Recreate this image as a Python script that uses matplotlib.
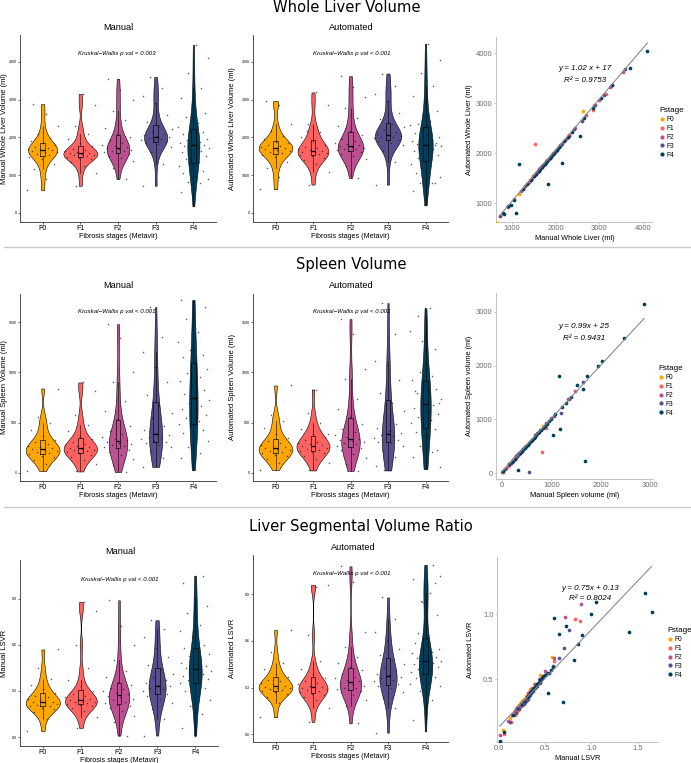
import matplotlib
matplotlib.use("Agg")
import matplotlib.pyplot as plt
from matplotlib.lines import Line2D
import numpy as np

W, H = 691, 763
STAGES = ["F0", "F1", "F2", "F3", "F4"]
STAGE_COLORS = ["#FFA600", "#FF6361", "#BC5090", "#58508D", "#003F5C"]

# whole liver volume (ml), manual vs automated, paired per patient
LIVER_MANUAL = {
    "F0": [600, 900, 1150, 1300, 1420, 1480, 1530, 1570, 1600, 1620, 1640, 1660, 1680, 1700, 1720, 1750, 1790, 1840, 1900, 1980, 2100, 2300, 2620, 2880],
    "F1": [720, 1050, 1250, 1360, 1420, 1460, 1490, 1510, 1530, 1545, 1560, 1575, 1590, 1610, 1630, 1660, 1700, 1760, 1850, 1950, 2100, 2300, 2850, 3150],
    "F2": [900, 1200, 1380, 1460, 1520, 1560, 1590, 1610, 1630, 1650, 1670, 1690, 1710, 1740, 1770, 1810, 1860, 1920, 2000, 2100, 2250, 2450, 2700, 3000, 3250, 3550],
    "F3": [720, 1300, 1600, 1750, 1820, 1860, 1890, 1920, 1940, 1960, 1980, 2000, 2030, 2060, 2100, 2150, 2220, 2300, 2420, 2600, 2900, 3100, 3300, 3600],
    "F4": [180, 550, 800, 820, 900, 980, 1050, 1100, 1150, 1250, 1350, 1430, 1500, 1560, 1610, 1650, 1690, 1720, 1750, 1780,
           1800, 1830, 1860, 1890, 1930, 1970, 2020, 2080, 2150, 2200, 2280, 2380, 2550, 2650, 2850, 3050, 3300, 3700, 4100, 4450],
}
LIVER_AUTO = {
    "F0": [630, 940, 1190, 1340, 1470, 1530, 1580, 1620, 1650, 1670, 1690, 1710, 1730, 1750, 1770, 1800, 1840, 1890, 1950, 2040, 2160, 2360, 2850, 2960],
    "F1": [750, 1090, 1290, 1400, 1460, 1500, 1540, 1560, 2180, 1590, 1610, 1620, 1640, 1660, 1680, 1710, 1750, 1810, 1900, 2000, 2150, 2360, 2860, 3190],
    "F2": [930, 1240, 1420, 1500, 1560, 1600, 1630, 1660, 1680, 1700, 1720, 1740, 1760, 1790, 1820, 1860, 1910, 1970, 2060, 2160, 2310, 2510, 2770, 3060, 3330, 3620],
    "F3": [750, 1340, 1640, 1790, 1860, 1900, 1930, 1960, 1980, 2000, 2020, 2040, 2070, 2100, 2140, 2190, 2270, 2350, 2480, 2650, 2960, 3160, 3370, 3690],
    "F4": [200, 570, 800, 790, 950, 960, 1060, 800, 1780, 1290, 1390, 1460, 1540, 1590, 1650, 1690, 1730, 1760, 1790, 1820,
           1850, 1380, 1910, 1940, 1980, 2010, 2070, 2120, 1810, 2250, 2330, 2430, 2350, 2700, 2900, 3100, 3360, 3700, 4050, 4480],
}

# spleen volume (ml)
SPLEEN_MANUAL = {
    "F0": [20, 90, 130, 155, 170, 185, 195, 205, 215, 225, 235, 245, 255, 270, 285, 305, 330, 370, 430, 500, 560, 840],
    "F1": [15, 90, 130, 160, 180, 195, 205, 215, 225, 232, 240, 248, 256, 265, 275, 290, 310, 335, 370, 420, 480, 580, 820, 900],
    "F2": [10, 80, 140, 180, 210, 230, 245, 258, 270, 280, 290, 300, 312, 325, 340, 360, 385, 420, 470, 540, 620, 720, 900, 1000, 1340, 1480],
    "F3": [60, 150, 220, 260, 280, 295, 310, 322, 335, 348, 362, 380, 400, 430, 470, 550, 600, 680, 780, 900, 1050, 1200, 1350, 1650],
    "F4": [30, 150, 200, 260, 320, 360, 400, 430, 460, 490, 520, 550, 580, 610, 640, 670, 700, 730, 760, 790,
           830, 870, 910, 950, 990, 1030, 1080, 1150, 1170, 1220, 1300, 1400, 1530, 1650, 1690, 1720, 1950, 2020, 2480, 2880],
}
SPLEEN_AUTO = {
    "F0": [30, 100, 140, 165, 180, 195, 205, 215, 225, 235, 245, 255, 265, 280, 295, 315, 345, 385, 445, 520, 580, 870],
    "F1": [25, 100, 140, 170, 195, 210, 220, 232, 242, 250, 258, 266, 275, 285, 295, 310, 330, 355, 390, 440, 500, 600, 390, 830],
    "F2": [20, 90, 150, 190, 225, 245, 260, 272, 285, 295, 305, 315, 328, 342, 358, 378, 405, 440, 490, 560, 640, 740, 930, 1030, 1380, 1530],
    "F3": [70, 160, 230, 270, 295, 310, 325, 338, 352, 366, 380, 400, 420, 450, 490, 25, 620, 700, 800, 920, 1070, 1110, 1380, 1690],
    "F4": [40, 160, 210, 270, 60, 370, 410, 440, 470, 500, 530, 560, 590, 620, 650, 680, 710, 740, 770, 800,
           840, 880, 920, 960, 1000, 700, 1090, 1810, 820, 1230, 1310, 1410, 1640, 1560, 230, 1810, 1990, 2080, 2520, 3150],
}

# liver segmental volume ratio
LSVR_MANUAL = {
    "F0": [0.04, 0.12, 0.16, 0.18, 0.19, 0.20, 0.205, 0.21, 0.215, 0.22, 0.225, 0.23, 0.24, 0.25, 0.26, 0.27, 0.29, 0.31, 0.34, 0.38, 0.45, 0.57],
    "F1": [0.06, 0.13, 0.17, 0.19, 0.20, 0.21, 0.215, 0.22, 0.225, 0.23, 0.235, 0.24, 0.245, 0.25, 0.26, 0.27, 0.28, 0.30, 0.33, 0.37, 0.45, 0.60, 0.82, 0.88],
    "F2": [0.01, 0.10, 0.14, 0.17, 0.19, 0.20, 0.21, 0.22, 0.23, 0.24, 0.25, 0.26, 0.27, 0.28, 0.29, 0.30, 0.31, 0.32, 0.34, 0.36, 0.39, 0.43, 0.50, 0.60, 0.72, 0.89],
    "F3": [0.01, 0.12, 0.18, 0.22, 0.25, 0.27, 0.28, 0.29, 0.30, 0.31, 0.32, 0.33, 0.34, 0.35, 0.37, 0.39, 0.41, 0.44, 0.47, 0.52, 0.58, 0.65, 0.70, 0.76],
    "F4": [0.01, 0.06, 0.15, 0.20, 0.24, 0.27, 0.30, 0.32, 0.34, 0.35, 0.36, 0.37, 0.38, 0.39, 0.40, 0.41, 0.42, 0.43, 0.44, 0.45,
           0.46, 0.47, 0.48, 0.50, 0.53, 0.54, 0.56, 0.58, 0.60, 0.65, 0.69, 0.73, 0.81, 0.85, 0.90, 1.00, 1.05, 1.41, 1.58, 1.65],
}
LSVR_AUTO = {
    "F0": [0.11, 0.20, 0.24, 0.26, 0.27, 0.28, 0.285, 0.29, 0.295, 0.30, 0.305, 0.31, 0.32, 0.33, 0.34, 0.35, 0.37, 0.39, 0.42, 0.46, 0.53, 0.67],
    "F1": [0.08, 0.17, 0.22, 0.24, 0.25, 0.26, 0.27, 0.28, 0.285, 0.29, 0.295, 0.30, 0.305, 0.31, 0.32, 0.33, 0.34, 0.36, 0.39, 0.42, 0.47, 0.64, 0.96, 0.95],
    "F2": [0.07, 0.18, 0.22, 0.25, 0.27, 0.28, 0.285, 0.29, 0.295, 0.30, 0.31, 0.32, 0.33, 0.34, 0.35, 0.36, 0.37, 0.39, 0.41, 0.43, 0.46, 0.50, 0.56, 0.66, 0.98, 1.08],
    "F3": [0.01, 0.17, 0.24, 0.27, 0.30, 0.31, 0.32, 0.33, 0.34, 0.35, 0.36, 0.37, 0.38, 0.39, 0.41, 0.43, 0.45, 0.48, 0.51, 0.55, 0.60, 0.66, 0.74, 0.88],
    "F4": [0.02, 0.09, 0.22, 0.28, 0.31, 0.33, 0.36, 0.37, 0.39, 0.40, 0.41, 0.42, 0.43, 0.44, 0.45, 0.46, 0.47, 0.47, 0.48, 0.49,
           0.50, 0.51, 0.52, 0.53, 0.39, 0.55, 0.57, 0.59, 0.97, 0.85, 0.32, 0.91, 0.65, 0.77, 0.84, 1.00, 1.09, 0.86, 1.16, 1.02],
}

LIVER_FIT = (1.02, 17)
SPLEEN_FIT = (0.99, 25)
LSVR_FIT = (0.75, 0.13)

LIVER_TICKS = [0, 1000, 2000, 3000, 4000]
SPLEEN_TICKS = [0, 500, 1000, 1500]
LSVR_TICKS = [0.0, 0.3, 0.6, 0.9]

plt.rcParams["font.family"] = ["Liberation Sans", "DejaVu Sans"]


def px_axes(fig, left, top, right, bottom):
    return fig.add_axes([left / W, 1 - bottom / H, (right - left) / W, (bottom - top) / H])


def ftext(fig, x, y, s, **kw):
    kw.setdefault("ha", "center")
    kw.setdefault("va", "center")
    fig.text(x / W, 1 - y / H, s, **kw)


def kde_nrd0(v, grid, adjust=1.5):
    # gaussian kde, bandwidth from R's bw.nrd0 (ggplot geom_violin default)
    q75, q25 = np.percentile(v, [75, 25])
    bw = adjust * 0.9 * min(v.std(ddof=1), (q75 - q25) / 1.34) * len(v) ** -0.2
    z = (grid[:, None] - v[None, :]) / bw
    return np.exp(-0.5 * z ** 2).sum(axis=1) / (len(v) * bw * np.sqrt(2 * np.pi))


def violin_panel(ax, groups, ylim, yticks, fmt, ylabel, label_x):
    kept = []
    for st in STAGES:
        v = np.asarray(groups[st], float)
        kept.append(v[(v >= ylim[0]) & (v <= ylim[1])])
    curves = []
    for v in kept:
        grid = np.linspace(v.min(), v.max(), 256)
        curves.append((grid, kde_nrd0(v, grid)))
    peak = max(d.max() for _, d in curves)
    for i, ((grid, dens), c) in enumerate(zip(curves, STAGE_COLORS)):
        half = dens / peak * 0.45
        ax.fill_betweenx(grid, i - half, i + half, facecolor=c, edgecolor="black", lw=0.4, zorder=2)
    ax.boxplot(kept, positions=range(5), widths=0.13, showfliers=False, manage_ticks=False,
               zorder=3, medianprops=dict(color="black", lw=0.9),
               boxprops=dict(lw=0.45), whiskerprops=dict(lw=0.4), capprops=dict(lw=0))
    for i, v in enumerate(kept):
        off = ((np.arange(len(v)) * 0.618034 + 0.37 * i) % 1 - 0.5) * 0.85
        ax.scatter(i + off, v, s=1.2, color="#1a1a1a", alpha=0.7, lw=0, zorder=4)
    ax.set_xlim(-0.6, 4.6)
    ax.set_ylim(*ylim)
    ax.set_xticks(range(5))
    ax.set_xticklabels(STAGES, fontsize=5)
    ax.set_yticks(yticks)
    ax.set_yticklabels([fmt.format(t) for t in yticks], fontsize=2.6)
    ax.tick_params(axis="x", length=1.5, width=0.4, pad=1.0)
    ax.tick_params(axis="y", length=1.2, width=0.4, pad=0.8)
    ax.set_xlabel("Fibrosis stages (Metavir)", fontsize=5.1, labelpad=0.2)
    ax.set_ylabel(ylabel, fontsize=5.5)
    ax.yaxis.set_label_coords(label_x, 0.5)
    for side in ["top", "right"]:
        ax.spines[side].set_visible(False)
    for side in ["left", "bottom"]:
        ax.spines[side].set_linewidth(0.6)
        ax.spines[side].set_color("#333333")


def scatter_panel(ax, man, auto, fit, xlim, ylim, xticks, yticks, fmt, xlabel, ylabel, xlab_y, ylab_x):
    for st, c in zip(STAGES, STAGE_COLORS):
        ax.scatter(man[st], auto[st], s=7, color=c, lw=0, zorder=3)
    allx = np.concatenate([np.asarray(man[st], float) for st in STAGES])
    allx = allx[(allx >= xlim[0]) & (allx <= xlim[1])]
    xs = np.array([allx.min(), allx.max()])
    ax.plot(xs, fit[0] * xs + fit[1], color="#8a8a8a", lw=0.8, zorder=4)
    ax.set_xlim(*xlim)
    ax.set_ylim(*ylim)
    ax.set_xticks(xticks)
    ax.set_xticklabels([fmt.format(t) for t in xticks], fontsize=5.5, color="#6e6e6e")
    ax.set_yticks(yticks)
    ax.set_yticklabels([fmt.format(t) for t in yticks], fontsize=5.5, color="#6e6e6e")
    ax.tick_params(length=1.5, width=0.4, color="#9a9a9a", pad=1)
    ax.set_xlabel(xlabel, fontsize=5.3)
    ax.set_ylabel(ylabel, fontsize=5.3)
    ax.xaxis.set_label_coords(0.5, xlab_y)
    ax.yaxis.set_label_coords(ylab_x, 0.5)
    for side in ["top", "right"]:
        ax.spines[side].set_visible(False)
    for side in ["left", "bottom"]:
        ax.spines[side].set_linewidth(0.7)
        ax.spines[side].set_color("#c4c4c4")


def stage_legend(fig, ax, x, y):
    handles = [Line2D([], [], marker="o", ls="", color=c, markersize=2.0) for c in STAGE_COLORS]
    return ax.legend(handles, STAGES, title="Fstage", loc="upper left",
                     bbox_to_anchor=(x / W, 1 - y / H), bbox_transform=fig.transFigure,
                     frameon=False, fontsize=4.8, title_fontsize=5.8, handletextpad=0.3,
                     labelspacing=0.28, handlelength=0.8, borderpad=0, alignment="left")


fig = plt.figure(figsize=(W / 100, H / 100), dpi=100)

# section separators
for yy in [247, 507]:
    fig.add_artist(Line2D([4 / W, 1], [1 - yy / H] * 2, color="#c8c8c8", lw=1.0))

# ---- row 1: whole liver volume
ftext(fig, 347, 8, "Whole Liver Volume", fontsize=10.6, family="DejaVu Sans")
ax = px_axes(fig, 20, 35, 216, 222)
violin_panel(ax, LIVER_MANUAL, (-240, 4710), LIVER_TICKS, "{:d}", "Manual Whole Liver Volume (ml)", -12 / 196)
ftext(fig, 118, 27, "Manual", fontsize=6.6)
ftext(fig, 117, 53, "Kruskal\u2212Wallis p val = 0.003", fontsize=4.4, style="italic")

ax = px_axes(fig, 253, 35, 448, 222)
violin_panel(ax, LIVER_AUTO, (-240, 4710), LIVER_TICKS, "{:d}", "Automated Whole Liver Volume (ml)", -17 / 195)
ftext(fig, 351, 28, "Automated", fontsize=6.6)
ftext(fig, 352, 53, "Kruskal\u2212Wallis p val < 0.001", fontsize=4.4, style="italic")

ax = px_axes(fig, 496, 37, 653, 222)
scatter_panel(ax, LIVER_MANUAL, LIVER_AUTO, LIVER_FIT, (634, 4230), (620, 4320),
              [1000, 2000, 3000, 4000], [1000, 2000, 3000, 4000], "{:d}",
              "Manual Whole Liver (ml)", "Automated Whole Liver (ml)", -13 / 185, -23 / 157)
ftext(fig, 585, 69, "y = 1.02 x + 17", fontsize=5.8, style="italic")
ftext(fig, 585, 80, "R\u00b2 = 0.9753", fontsize=5.8, style="italic")
stage_legend(fig, ax, 656, 104)

# ---- row 2: spleen volume
ftext(fig, 351, 265, "Spleen Volume", fontsize=10.6, family="DejaVu Sans")
ax = px_axes(fig, 20, 294, 216, 481)
violin_panel(ax, SPLEEN_MANUAL, (-80, 1780), SPLEEN_TICKS, "{:d}", "Manual Spleen Volume (ml)", -12 / 196)
ftext(fig, 118, 286, "Manual", fontsize=6.6)
ftext(fig, 117, 312, "Kruskal\u2212Wallis p val < 0.001", fontsize=4.4, style="italic")

ax = px_axes(fig, 253, 294, 448, 481)
violin_panel(ax, SPLEEN_AUTO, (-80, 1780), SPLEEN_TICKS, "{:d}", "Automated Spleen Volume (ml)", -17 / 195)
ftext(fig, 351, 286, "Automated", fontsize=6.6)
ftext(fig, 352, 312, "Kruskal\u2212Wallis p val < 0.001", fontsize=4.4, style="italic")

ax = px_axes(fig, 496, 293, 653, 479)
scatter_panel(ax, SPLEEN_MANUAL, SPLEEN_AUTO, SPLEEN_FIT, (-120, 3060), (-110, 3350),
              [0, 1000, 2000, 3000], [0, 1000, 2000, 3000], "{:d}",
              "Manual Spleen volume (ml)", "Automated Spleen volume (ml)", -13 / 186, -23 / 157)
ftext(fig, 584, 327, "y = 0.99x + 25", fontsize=5.8, style="italic")
ftext(fig, 584, 338, "R\u00b2 = 0.9431", fontsize=5.8, style="italic")
stage_legend(fig, ax, 655, 362)

# ---- row 3: liver segmental volume ratio
ftext(fig, 361, 527, "Liver Segmental Volume Ratio", fontsize=10.6, family="DejaVu Sans")
ax = px_axes(fig, 20, 560, 218, 746)
violin_panel(ax, LSVR_MANUAL, (-0.058, 1.152), LSVR_TICKS, "{:.1f}", "Manual LSVR", -12 / 198)
ftext(fig, 120, 552, "Manual", fontsize=6.6)
ftext(fig, 120, 579, "Kruskal\u2212Wallis p val < 0.001", fontsize=4.4, style="italic")

ax = px_axes(fig, 253, 555, 448, 742)
violin_panel(ax, LSVR_AUTO, (-0.05, 1.153), LSVR_TICKS, "{:.1f}", "Automated LSVR", -17 / 195)
ftext(fig, 353, 548, "Automated", fontsize=6.6)
ftext(fig, 352, 573, "Kruskal\u2212Wallis p val < 0.001", fontsize=4.4, style="italic")

ax = px_axes(fig, 497, 557, 658, 742)
scatter_panel(ax, LSVR_MANUAL, LSVR_AUTO, LSVR_FIT, (-0.02, 1.72), (0.015, 1.44),
              [0.0, 0.5, 1.0, 1.5], [0.5, 1.0], "{:.1f}",
              "Manual LSVR", "Automated LSVR", -13 / 185, -23 / 161)
ftext(fig, 590, 588, "y = 0.75x + 0.13", fontsize=5.8, style="italic")
ftext(fig, 590, 599, "R\u00b2 = 0.8024", fontsize=5.8, style="italic")
stage_legend(fig, ax, 664, 624)

fig.savefig("out.png", dpi=100)
